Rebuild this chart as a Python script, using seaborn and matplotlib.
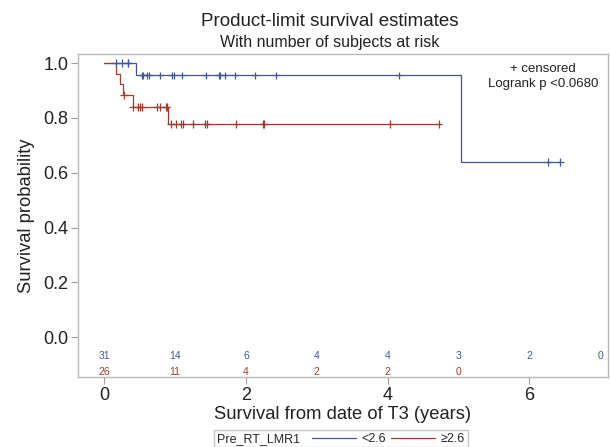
import matplotlib
matplotlib.use('Agg')
import matplotlib.pyplot as plt
from matplotlib.lines import Line2D
from matplotlib.offsetbox import HPacker
import seaborn as sns
import numpy as np
import pandas as pd

# Kaplan-Meier steps
blue_times = [0.0, 0.45, 5.04, 6.44]
blue_surv = [1.0, 0.955, 0.64, 0.64]
red_times = [0.0, 0.17, 0.22, 0.27, 0.40, 0.90, 4.72]
red_surv = [1.0, 0.962, 0.923, 0.883, 0.84, 0.777, 0.777]

# censored observations
blue_censor = [0.165, 0.25, 0.33, 0.34, 0.54, 0.55, 0.60, 0.63, 0.79, 0.95, 0.99,
               1.10, 1.43, 1.62, 1.63, 1.71, 1.84, 2.13, 2.42, 4.16, 6.26, 6.44]
red_censor = [0.28, 0.40, 0.48, 0.50, 0.54, 0.74, 0.79, 0.87, 0.88, 0.94, 1.02,
              1.09, 1.11, 1.25, 1.42, 1.45, 1.86, 2.24, 2.26, 4.04, 4.72]

# number at risk
risk_times = [0, 1, 2, 3, 4, 5, 6, 7]
blue_risk = [31, 14, 6, 4, 4, 3, 2, 0]
red_risk = [26, 11, 4, 2, 2, 0]

groups = ['<2.6', '≥2.6']
colors = {'<2.6': '#445694', '≥2.6': '#A23A2E'}


def step_value(times, surv, t):
  i = np.searchsorted(times, t, side='right') - 1
  return surv[i]


curves = pd.concat([
  pd.DataFrame({'time': blue_times, 'surv': blue_surv, 'group': groups[0]}),
  pd.DataFrame({'time': red_times, 'surv': red_surv, 'group': groups[1]}),
])
censored = pd.concat([
  pd.DataFrame({'time': blue_censor,
                'surv': [step_value(blue_times, blue_surv, t) for t in blue_censor],
                'group': groups[0]}),
  pd.DataFrame({'time': red_censor,
                'surv': [step_value(red_times, red_surv, t) for t in red_censor],
                'group': groups[1]}),
])

sns.set_style('white')
plt.rcParams['font.family'] = ['Liberation Sans', 'DejaVu Sans']
txt = '#222222'

fig = plt.figure(figsize=(6.11, 4.47), dpi=100)
ax = fig.add_axes([0.1277, 0.1566, 0.8673, 0.7224])

sns.lineplot(data=curves, x='time', y='surv', hue='group', palette=colors,
             drawstyle='steps-post', estimator=None, sort=False, lw=0.9,
             legend=False, ax=ax)
sns.scatterplot(data=censored, x='time', y='surv', hue='group', palette=colors,
                marker='+', s=30, linewidth=0.9, legend=False, ax=ax, zorder=3)

# at-risk table inside the plot
for t, n in zip(risk_times, blue_risk):
  ax.text(t, -0.07, str(n), color=colors[groups[0]], fontsize=7.5,
          ha='center', va='center')
for t, n in zip(risk_times, red_risk):
  ax.text(t, -0.125, str(n), color=colors[groups[1]], fontsize=7.5,
          ha='center', va='center')

ax.set_xlim(-0.37, 7.11)
ax.set_ylim(-0.145, 1.033)
ax.set_xticks([0, 2, 4, 6])
ax.set_yticks([0.0, 0.2, 0.4, 0.6, 0.8, 1.0])
ax.set_yticklabels(['0.0', '0.2', '0.4', '0.6', '0.8', '1.0'])
ax.tick_params(axis='both', which='both', direction='out', length=5, width=0.8,
               color='#a0a0a0', labelsize=13, labelcolor=txt, pad=2,
               bottom=True, left=True)
for s in ax.spines.values():
  s.set_color('#b8b8b8')
  s.set_linewidth(1.0)

ax.set_xlabel('Survival from date of T3 (years)', fontsize=13.2, color=txt, labelpad=2)
ax.set_ylabel('Survival probability', fontsize=13.2, color=txt, labelpad=6)

ax.text(0.877, 0.954, '+ censored', transform=ax.transAxes, fontsize=9.5,
        ha='center', va='center', color=txt)
ax.text(0.877, 0.907, 'Logrank p <0.0680', transform=ax.transAxes, fontsize=9.5,
        ha='center', va='center', color=txt)

fig.text(0.540, 0.951, 'Product-limit survival estimates', fontsize=13.5,
         ha='center', va='center', color=txt)
fig.text(0.540, 0.906, 'With number of subjects at risk', fontsize=11.5,
         ha='center', va='center', color=txt)

# legend: title sits to the left of the entries
handles = [Line2D([], [], color=colors[g], lw=0.9) for g in groups]
leg = fig.legend(handles=handles, labels=groups, title='Pre_RT_LMR1', ncol=2,
                 loc='upper center', bbox_to_anchor=(0.558, 0.037),
                 fontsize=9, title_fontsize=9, frameon=True, fancybox=False,
                 handlelength=3.5, columnspacing=0.4, handletextpad=0.45,
                 borderpad=0.2, borderaxespad=0, edgecolor='#b8b8b8')
leg.get_frame().set_linewidth(1.0)
box = leg._legend_box
leg._legend_box = HPacker(pad=box.pad, sep=9, align='center',
                          children=box.get_children())
leg._legend_box.set_figure(fig)
leg._legend_box.set_offset(leg._findoffset)

fig.savefig('out.png', dpi=100)
